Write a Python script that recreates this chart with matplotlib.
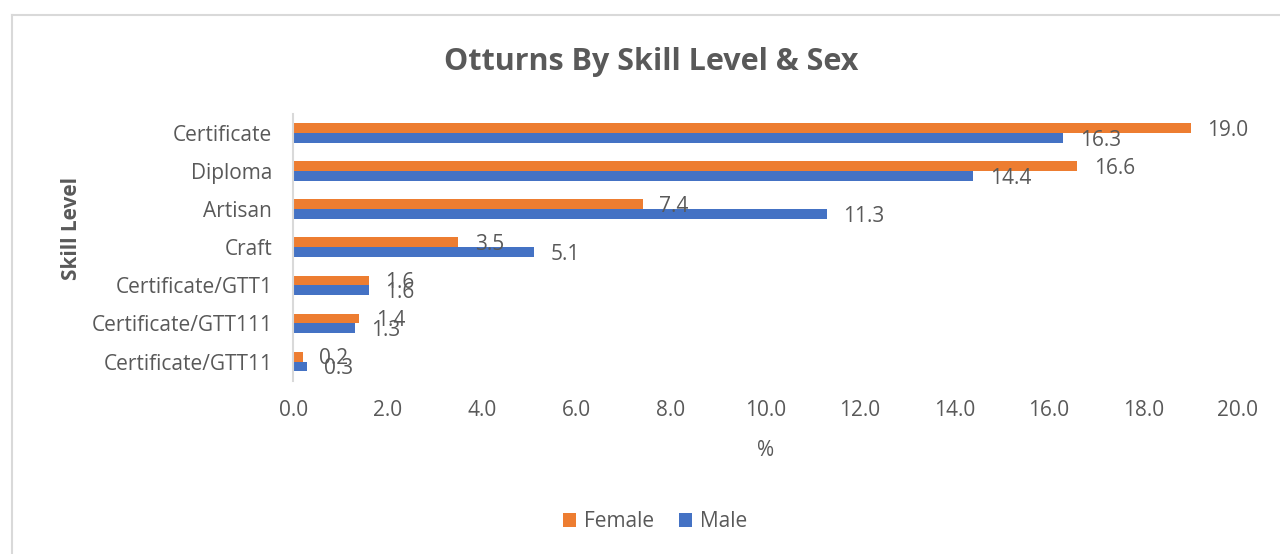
import matplotlib.pyplot as plt
import numpy as np
from matplotlib.lines import Line2D

plt.rcParams['font.family'] = ['Open Sans', 'DejaVu Sans']

# data
levels = ['Certificate', 'Diploma', 'Artisan', 'Craft',
          'Certificate/GTT1', 'Certificate/GTT111', 'Certificate/GTT11']
female = [19.0, 16.6, 7.4, 3.5, 1.6, 1.4, 0.2]
male = [16.3, 14.4, 11.3, 5.1, 1.6, 1.3, 0.3]
xticks = np.arange(0, 21, 2)

orange = '#ED7D31'
blue = '#4472C4'
grey = '#595959'
fs = 15

fig = plt.figure(figsize=(12.8, 5.54), dpi=100)
ax = fig.add_axes([0.229, 0.313, 0.738, 0.481])

y = np.arange(len(levels))
h = 0.26
bf = ax.barh(y - h / 2, female, height=h, color=orange, label='Female')
bm = ax.barh(y + h / 2, male, height=h, color=blue, label='Male')

for bars, vals in ((bf, female), (bm, male)):
    for b, v in zip(bars, vals):
        ax.annotate(f'{v:.1f}', (b.get_width(), b.get_y() + b.get_height() / 2),
                    xytext=(12, -1.5), textcoords='offset points',
                    ha='left', va='center', fontsize=fs, color=grey)

ax.set_ylim(len(levels) - 0.5, -0.5)
ax.set_xlim(0, 20)
ax.set_yticks(y)
ax.set_yticklabels(levels)
ax.set_xticks(xticks)
ax.set_xticklabels([f'{t:.1f}' for t in xticks])
ax.tick_params(axis='both', length=0, labelsize=fs, labelcolor=grey)
ax.tick_params(axis='x', pad=14)
ax.tick_params(axis='y', pad=15)

for s in ('top', 'right', 'bottom'):
    ax.spines[s].set_visible(False)
ax.spines['left'].set_color('#D9D9D9')
ax.spines['left'].set_linewidth(1.5)

ax.set_xlabel('%', fontsize=fs, color=grey, labelpad=14)
fig.text(0.056, 0.588, 'Skill Level', rotation=90, ha='center', va='center',
         fontsize=fs, fontweight='bold', color=grey)

fig.text(0.509, 0.888, 'Otturns By Skill Level & Sex', ha='center', va='center',
         fontsize=22, fontweight='bold', color=grey)

fig.legend(handles=[bf, bm], loc='center', bbox_to_anchor=(0.512, 0.058),
           ncol=2, frameon=False, fontsize=fs, labelcolor=grey,
           handlelength=0.6, handleheight=0.6, handletextpad=0.4,
           columnspacing=1.2)

# chart frame (left and top edges visible)
fig.add_artist(Line2D([0.0095, 0.0095], [0, 0.973], color='#D9D9D9', lw=1.5))
fig.add_artist(Line2D([0.0095, 1.0], [0.973, 0.973], color='#D9D9D9', lw=1.5))

fig.savefig('out.png', dpi=100)
